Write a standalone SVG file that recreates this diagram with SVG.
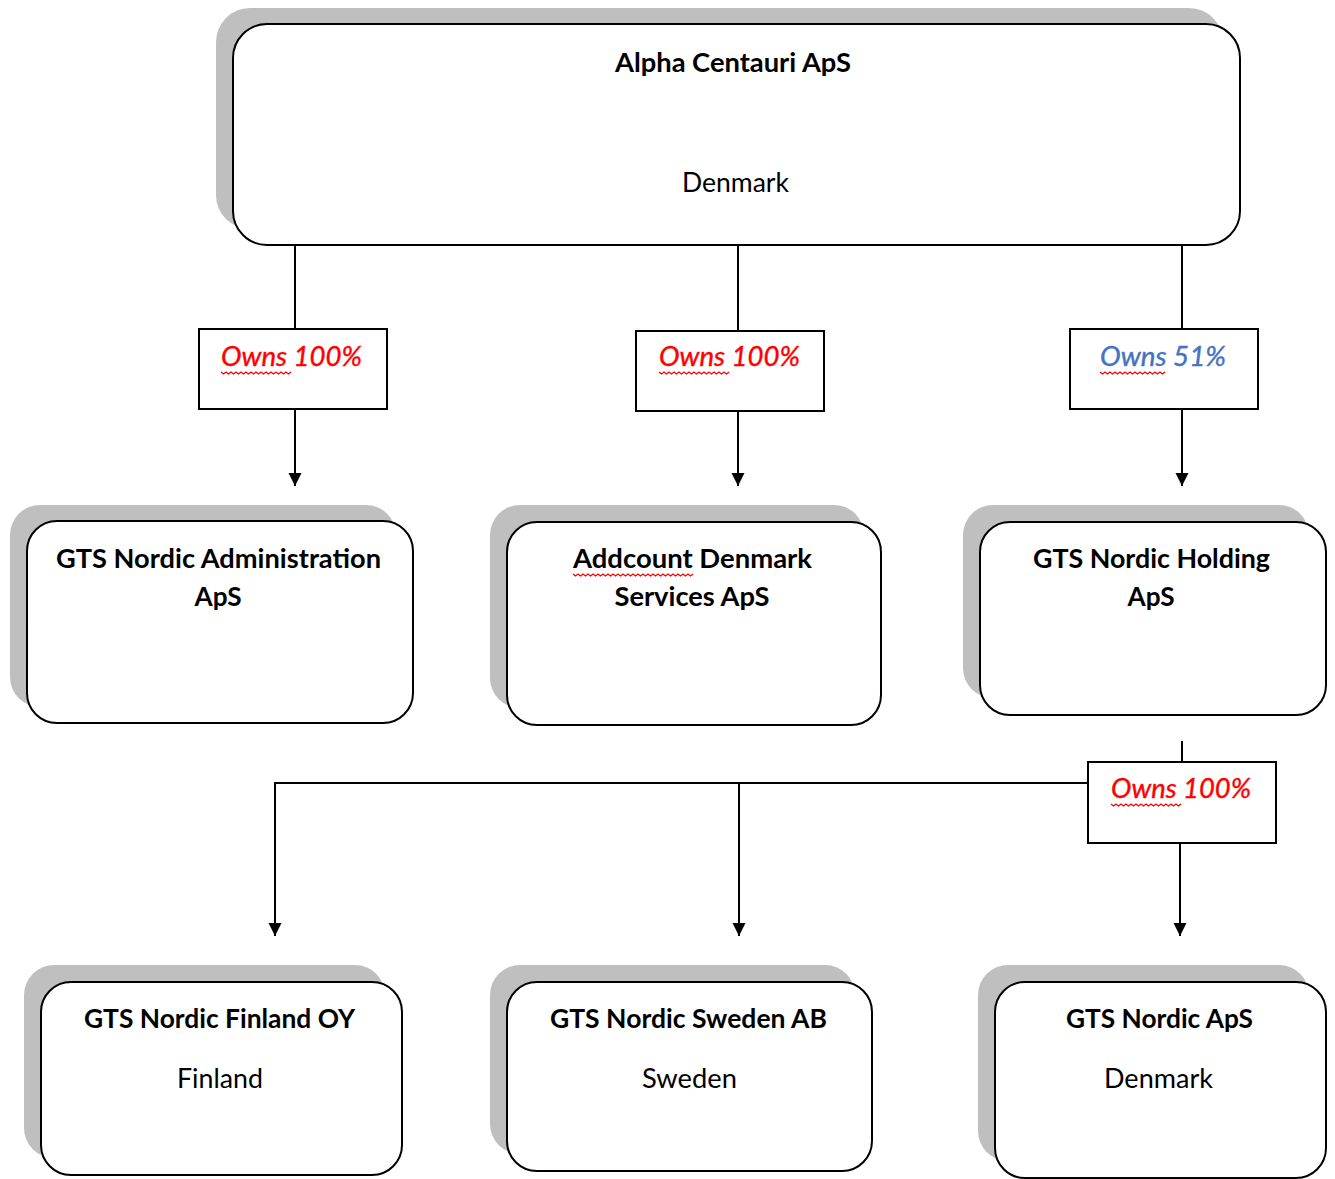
<svg xmlns="http://www.w3.org/2000/svg" width="1335" height="1179" viewBox="0 0 1335 1179">
<style>
.sh{fill:#bfbfbf;stroke:none}
.bx{fill:#ffffff;stroke:#000;stroke-width:2}
.lb{fill:#ffffff;stroke:#000;stroke-width:2}
.t{font-family:Lato,"Open Sans","Liberation Sans",sans-serif;font-size:27px;fill:#000;text-anchor:middle}
.b{font-weight:bold}
.o{font-family:Lato,"Open Sans","Liberation Sans",sans-serif;font-size:27px;font-style:italic;text-anchor:middle;stroke-width:0.4}
.red{fill:#ff0000;stroke:#ff0000}
.blue{fill:#4472c4;stroke:#4472c4}
.c{stroke:#000;stroke-width:2;fill:none}
.sq{stroke:#ff0000;stroke-width:1.3;fill:none}
</style>
<defs>
<marker id="ah" markerUnits="userSpaceOnUse" markerWidth="14" markerHeight="14" refX="13" refY="6.5" orient="auto">
<path d="M0,0 L13,6.5 L0,13 z" fill="#000"/>
</marker>
</defs>
<rect width="1335" height="1179" fill="#fff"/>

<g id="connectors">
<line class="c" x1="295" y1="245" x2="295" y2="329"/>
<line class="c" x1="295" y1="409" x2="295" y2="486" marker-end="url(#ah)"/>
<line class="c" x1="738" y1="245" x2="738" y2="331"/>
<line class="c" x1="738" y1="411" x2="738" y2="486" marker-end="url(#ah)"/>
<line class="c" x1="1182" y1="245" x2="1182" y2="329"/>
<line class="c" x1="1182" y1="409" x2="1182" y2="486" marker-end="url(#ah)"/>
<line class="c" x1="1182" y1="741" x2="1182" y2="762"/>
<line class="c" x1="274" y1="783" x2="1088" y2="783"/>
<line class="c" x1="275" y1="782" x2="275" y2="936" marker-end="url(#ah)"/>
<line class="c" x1="739" y1="783" x2="739" y2="936" marker-end="url(#ah)"/>
<line class="c" x1="1180" y1="843" x2="1180" y2="936" marker-end="url(#ah)"/>
</g>

<g id="label1">
<rect class="lb" x="199" y="329" width="188" height="80"/>
<text class="o red" x="291.5" y="366" textLength="141" lengthAdjust="spacingAndGlyphs">Owns 100%</text>
<path class="sq" d="M221,372 l2.5,2 l2.5,-2 l2.5,2 l2.5,-2 l2.5,2 l2.5,-2 l2.5,2 l2.5,-2 l2.5,2 l2.5,-2 l2.5,2 l2.5,-2 l2.5,2 l2.5,-2 l2.5,2 l2.5,-2 l2.5,2 l2.5,-2 l2.5,2 l2.5,-2 l2.5,2 l2.5,-2 l2.5,2 l2.5,-2 l2.5,2 l2.5,-2 l2.5,2 l2.5,-2"/>
</g>
<g id="label2">
<rect class="lb" x="636" y="331" width="188" height="80"/>
<text class="o red" x="729.5" y="366" textLength="141" lengthAdjust="spacingAndGlyphs">Owns 100%</text>
<path class="sq" d="M659,372 l2.5,2 l2.5,-2 l2.5,2 l2.5,-2 l2.5,2 l2.5,-2 l2.5,2 l2.5,-2 l2.5,2 l2.5,-2 l2.5,2 l2.5,-2 l2.5,2 l2.5,-2 l2.5,2 l2.5,-2 l2.5,2 l2.5,-2 l2.5,2 l2.5,-2 l2.5,2 l2.5,-2 l2.5,2 l2.5,-2 l2.5,2 l2.5,-2 l2.5,2 l2.5,-2"/>
</g>
<g id="label3">
<rect class="lb" x="1070" y="329" width="188" height="80"/>
<text class="o blue" x="1163" y="366" textLength="126" lengthAdjust="spacingAndGlyphs">Owns 51%</text>
<path class="sq" d="M1100,372 l2.5,2 l2.5,-2 l2.5,2 l2.5,-2 l2.5,2 l2.5,-2 l2.5,2 l2.5,-2 l2.5,2 l2.5,-2 l2.5,2 l2.5,-2 l2.5,2 l2.5,-2 l2.5,2 l2.5,-2 l2.5,2 l2.5,-2 l2.5,2 l2.5,-2 l2.5,2 l2.5,-2 l2.5,2 l2.5,-2 l2.5,2 l2.5,-2"/>
</g>
<g id="label4">
<rect class="lb" x="1088" y="762" width="188" height="81"/>
<text class="o red" x="1181" y="798" textLength="140" lengthAdjust="spacingAndGlyphs">Owns 100%</text>
<path class="sq" d="M1111,804 l2.5,2 l2.5,-2 l2.5,2 l2.5,-2 l2.5,2 l2.5,-2 l2.5,2 l2.5,-2 l2.5,2 l2.5,-2 l2.5,2 l2.5,-2 l2.5,2 l2.5,-2 l2.5,2 l2.5,-2 l2.5,2 l2.5,-2 l2.5,2 l2.5,-2 l2.5,2 l2.5,-2 l2.5,2 l2.5,-2 l2.5,2 l2.5,-2 l2.5,2 l2.5,-2"/>
</g>

<g id="alpha">
<rect class="sh" x="216" y="8" width="1007" height="221" rx="34"/>
<rect class="bx" x="233" y="24" width="1007" height="221" rx="34"/>
<text class="t b" x="733" y="72" textLength="236" lengthAdjust="spacingAndGlyphs">Alpha Centauri ApS</text>
<text class="t" x="735.5" y="192" textLength="107" lengthAdjust="spacingAndGlyphs">Denmark</text>
</g>

<g id="admin">
<rect class="sh" x="10" y="505" width="386" height="202" rx="30"/>
<rect class="bx" x="27" y="521" width="386" height="202" rx="30"/>
<text class="t b" x="218.5" y="568" textLength="325" lengthAdjust="spacingAndGlyphs">GTS Nordic Administration</text>
<text class="t b" x="218" y="606" textLength="47" lengthAdjust="spacingAndGlyphs">ApS</text>
</g>

<g id="addcount">
<rect class="sh" x="490" y="505" width="374" height="203" rx="30"/>
<rect class="bx" x="507" y="522" width="374" height="203" rx="30"/>
<text class="t b" x="692.5" y="568" textLength="239" lengthAdjust="spacingAndGlyphs">Addcount Denmark</text>
<path class="sq" d="M573,574 l2.5,2 l2.5,-2 l2.5,2 l2.5,-2 l2.5,2 l2.5,-2 l2.5,2 l2.5,-2 l2.5,2 l2.5,-2 l2.5,2 l2.5,-2 l2.5,2 l2.5,-2 l2.5,2 l2.5,-2 l2.5,2 l2.5,-2 l2.5,2 l2.5,-2 l2.5,2 l2.5,-2 l2.5,2 l2.5,-2 l2.5,2 l2.5,-2 l2.5,2 l2.5,-2 l2.5,2 l2.5,-2 l2.5,2 l2.5,-2 l2.5,2 l2.5,-2 l2.5,2 l2.5,-2 l2.5,2 l2.5,-2 l2.5,2 l2.5,-2 l2.5,2 l2.5,-2 l2.5,2 l2.5,-2 l2.5,2 l2.5,-2 l2.5,2 l2.5,-2"/>
<text class="t b" x="692" y="606" textLength="155" lengthAdjust="spacingAndGlyphs">Services ApS</text>
</g>

<g id="holding">
<rect class="sh" x="963" y="505" width="346" height="193" rx="30"/>
<rect class="bx" x="980" y="522" width="346" height="193" rx="30"/>
<text class="t b" x="1151.5" y="568" textLength="237" lengthAdjust="spacingAndGlyphs">GTS Nordic Holding</text>
<text class="t b" x="1151" y="606" textLength="47" lengthAdjust="spacingAndGlyphs">ApS</text>
</g>

<g id="finland">
<rect class="sh" x="24" y="965" width="361" height="193" rx="30"/>
<rect class="bx" x="41" y="982" width="361" height="193" rx="30"/>
<text class="t b" x="219.5" y="1028" textLength="271" lengthAdjust="spacingAndGlyphs">GTS Nordic Finland OY</text>
<text class="t" x="220" y="1088" textLength="86" lengthAdjust="spacingAndGlyphs">Finland</text>
</g>

<g id="sweden">
<rect class="sh" x="490" y="965" width="365" height="189" rx="30"/>
<rect class="bx" x="507" y="982" width="365" height="189" rx="30"/>
<text class="t b" x="688.5" y="1028" textLength="277" lengthAdjust="spacingAndGlyphs">GTS Nordic Sweden AB</text>
<text class="t" x="689.5" y="1088" textLength="95" lengthAdjust="spacingAndGlyphs">Sweden</text>
</g>

<g id="gtsnordic">
<rect class="sh" x="978" y="965" width="331" height="196" rx="30"/>
<rect class="bx" x="995" y="982" width="331" height="196" rx="30"/>
<text class="t b" x="1159.5" y="1028" textLength="187" lengthAdjust="spacingAndGlyphs">GTS Nordic ApS</text>
<text class="t" x="1158.5" y="1088" textLength="109" lengthAdjust="spacingAndGlyphs">Denmark</text>
</g>
</svg>
